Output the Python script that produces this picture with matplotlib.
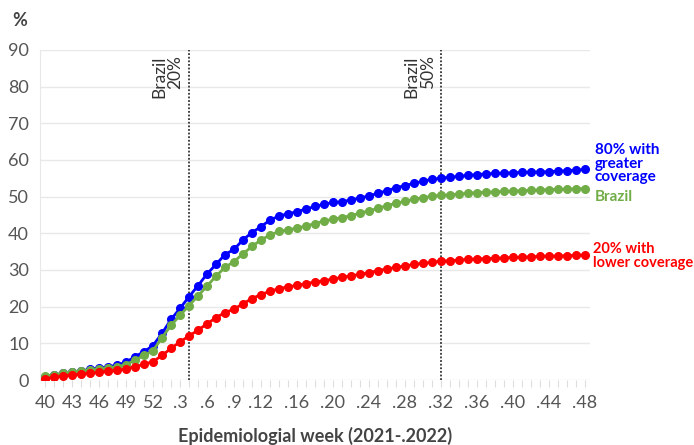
import matplotlib.pyplot as plt

plt.rcParams['font.family'] = ['Lato', 'DejaVu Sans']

# Epidemiological weeks: 40-52 of 2021, then 1-48 of 2022
weeks = [str(w) for w in range(40, 53)] + ['.' + str(w) for w in range(1, 49)]
shown_weeks = ['40', '43', '46', '49', '52', '.3', '.6', '.9', '.12', '.16', '.20',
               '.24', '.28', '.32', '.36', '.40', '.44', '.48']

greater = [0.9, 1.4, 1.8, 2.2, 2.5, 2.9, 3.3, 3.5, 4.1, 4.8,
           6.4, 7.7, 9.4, 12.7, 16.5, 19.5, 22.7, 25.7, 28.9, 31.5,
           34.2, 35.6, 38.2, 40.2, 41.8, 43.6, 44.7, 45.3, 45.9, 46.6,
           47.3, 47.9, 48.4, 48.6, 49.1, 49.6, 50.2, 50.9, 51.6, 52.4,
           53.0, 53.6, 54.2, 54.7, 55.0, 55.3, 55.5, 55.8, 56.0, 56.2,
           56.3, 56.4, 56.5, 56.6, 56.7, 56.7, 56.8, 56.9, 57.1, 57.2, 57.4]
brazil = [1.1, 1.5, 1.8, 2.2, 2.5, 2.7, 3.0, 3.3, 3.6, 4.2,
          5.4, 6.7, 8.0, 11.5, 14.9, 17.6, 20.3, 22.9, 25.6, 28.3,
          30.7, 32.3, 34.4, 36.4, 38.2, 39.5, 40.5, 40.9, 41.4, 42.0,
          42.6, 43.4, 43.8, 44.3, 44.8, 45.5, 46.1, 46.8, 47.5, 48.2,
          48.7, 49.3, 49.7, 50.1, 50.3, 50.5, 50.7, 50.9, 51.1, 51.2,
          51.3, 51.4, 51.5, 51.6, 51.7, 51.8, 51.9, 52.0, 52.0, 52.1, 52.2]
lower = [0.4, 0.7, 1.1, 1.4, 1.6, 1.8, 2.1, 2.4, 2.6, 3.0,
         3.6, 4.3, 5.0, 6.7, 8.6, 10.4, 12.0, 13.6, 15.3, 17.0,
         18.4, 19.3, 20.8, 22.2, 23.3, 24.2, 24.9, 25.4, 25.8, 26.3,
         26.7, 27.1, 27.5, 28.0, 28.4, 28.8, 29.3, 29.8, 30.3, 30.7,
         31.1, 31.5, 31.8, 32.1, 32.4, 32.5, 32.7, 32.9, 33.0, 33.1,
         33.2, 33.3, 33.4, 33.5, 33.6, 33.7, 33.8, 33.8, 33.9, 34.0, 34.1]

# milestone weeks (Brazil reaching 20% and 50%)
milestones = ['.4', '.32']
milestone_labels = ['Brazil\n20%', 'Brazil\n50%']

x = list(range(len(weeks)))

fig = plt.figure(figsize=(6.94, 4.45), dpi=100)
ax = fig.add_axes([0.0576, 0.146, 0.7925, 0.742])

ax.plot(x, greater, '-o', color='#0000ff', lw=2, ms=5.5, zorder=3)
ax.plot(x, brazil, '-o', color='#70ad47', lw=2, ms=5.5, zorder=3)
ax.plot(x, lower, '-o', color='#ff0000', lw=2, ms=5.5, zorder=3)

for wk, lab in zip(milestones, milestone_labels):
    xi = weeks.index(wk)
    ax.axvline(xi, color='#333333', ls=(0, (1, 1)), lw=1.3, zorder=2)
    ax.text(xi - 0.6, 88.5, lab, rotation=90, ha='right', va='top',
            multialignment='right', fontsize=12.5, color='#333333', linespacing=1.0)

ax.set_xlim(-0.55, len(weeks) - 0.45)
ax.set_ylim(0, 90)
ax.set_yticks(range(0, 91, 10))
ax.set_xticks(x)
ax.set_xticklabels([w if w in shown_weeks else '' for w in weeks])
ax.tick_params(axis='x', length=5, color='#dddddd', labelsize=13,
               labelcolor='#555555', pad=6)
ax.tick_params(axis='y', length=0, labelsize=13, labelcolor='#555555', pad=8)
ax.grid(axis='y', color='#e8e8e8', lw=1)
ax.set_axisbelow(True)
for s in ['top', 'right', 'bottom']:
    ax.spines[s].set_visible(False)
ax.spines['left'].set_color('#e8e8e8')

ax.set_xlabel('Epidemiologial week (2021-.2022)', fontsize=13, fontweight='bold',
              color='#444444', labelpad=11)
fig.text(0.017, 0.955, '%', fontsize=13, fontweight='bold', color='#444444',
         va='center')

# series labels at the right end
last = len(weeks) - 1
ax.annotate('80% with\ngreater\ncoverage', (last, greater[-1]), xytext=(7, 4),
            textcoords='offset points', va='center', ha='left', fontsize=11,
            fontweight='bold', color='#0000ff', linespacing=0.95, annotation_clip=False)
ax.annotate('Brazil', (last, brazil[-1]), xytext=(7, -6),
            textcoords='offset points', va='center', ha='left', fontsize=11,
            fontweight='bold', color='#70ad47', annotation_clip=False)
ax.annotate('20% with\nlower coverage', (last, lower[-1]), xytext=(6, -1),
            textcoords='offset points', va='center', ha='left', fontsize=10.5,
            fontweight='bold', color='#ff0000', linespacing=1.0, annotation_clip=False)

fig.savefig('out.png', dpi=100)
